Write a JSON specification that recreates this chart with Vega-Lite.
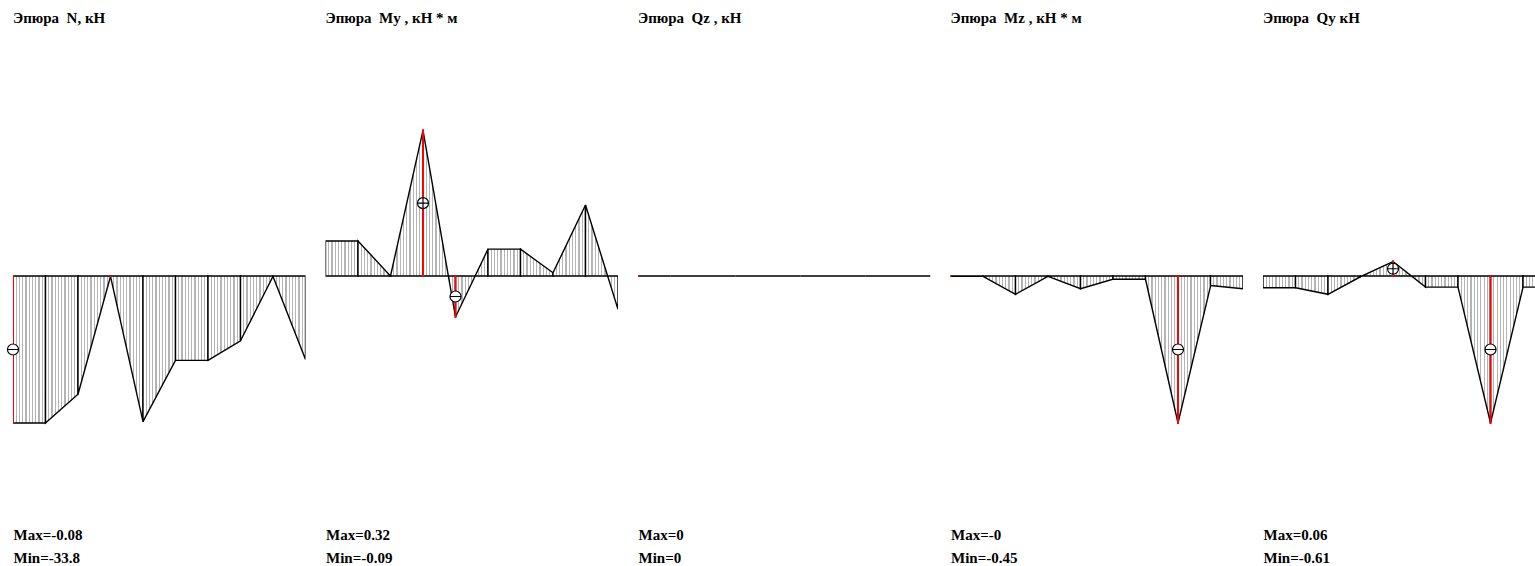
{
  "$schema": "https://vega.github.io/schema/vega-lite/v6.json",
  "background": "white",
  "padding": {"left": 5, "top": 10, "right": 0, "bottom": 0},
  "datasets": {
    "segs": [
      {"p": "N", "e": 1, "x": 0, "v": -33.8}, {"p": "N", "e": 1, "x": 1, "v": -33.8},
      {"p": "N", "e": 2, "x": 1, "v": -33.8}, {"p": "N", "e": 2, "x": 2, "v": -27.2},
      {"p": "N", "e": 3, "x": 2, "v": -27.2}, {"p": "N", "e": 3, "x": 3, "v": -0.08},
      {"p": "N", "e": 4, "x": 3, "v": -0.08}, {"p": "N", "e": 4, "x": 4, "v": -33.5},
      {"p": "N", "e": 5, "x": 4, "v": -33.5}, {"p": "N", "e": 5, "x": 5, "v": -19.4},
      {"p": "N", "e": 6, "x": 5, "v": -19.4}, {"p": "N", "e": 6, "x": 6, "v": -19.4},
      {"p": "N", "e": 7, "x": 6, "v": -19.4}, {"p": "N", "e": 7, "x": 7, "v": -14.9},
      {"p": "N", "e": 8, "x": 7, "v": -14.9}, {"p": "N", "e": 8, "x": 8, "v": -0.09},
      {"p": "N", "e": 9, "x": 8, "v": -0.09}, {"p": "N", "e": 9, "x": 9, "v": -19.2},

      {"p": "My", "e": 1, "x": 0, "v": 0.077}, {"p": "My", "e": 1, "x": 1, "v": 0.077},
      {"p": "My", "e": 2, "x": 1, "v": 0.077}, {"p": "My", "e": 2, "x": 2, "v": 0.0},
      {"p": "My", "e": 3, "x": 2, "v": 0.0}, {"p": "My", "e": 3, "x": 3, "v": 0.32},
      {"p": "My", "e": 4, "x": 3, "v": 0.32}, {"p": "My", "e": 4, "x": 4, "v": -0.09},
      {"p": "My", "e": 5, "x": 4, "v": -0.09}, {"p": "My", "e": 5, "x": 5, "v": 0.059},
      {"p": "My", "e": 6, "x": 5, "v": 0.059}, {"p": "My", "e": 6, "x": 6, "v": 0.059},
      {"p": "My", "e": 7, "x": 6, "v": 0.059}, {"p": "My", "e": 7, "x": 7, "v": 0.007},
      {"p": "My", "e": 8, "x": 7, "v": 0.007}, {"p": "My", "e": 8, "x": 8, "v": 0.156},
      {"p": "My", "e": 9, "x": 8, "v": 0.156}, {"p": "My", "e": 9, "x": 9, "v": -0.073},

      {"p": "Qz", "e": 1, "x": 0, "v": 0}, {"p": "Qz", "e": 1, "x": 1, "v": 0},
      {"p": "Qz", "e": 2, "x": 1, "v": 0}, {"p": "Qz", "e": 2, "x": 2, "v": 0},
      {"p": "Qz", "e": 3, "x": 2, "v": 0}, {"p": "Qz", "e": 3, "x": 3, "v": 0},
      {"p": "Qz", "e": 4, "x": 3, "v": 0}, {"p": "Qz", "e": 4, "x": 4, "v": 0},
      {"p": "Qz", "e": 5, "x": 4, "v": 0}, {"p": "Qz", "e": 5, "x": 5, "v": 0},
      {"p": "Qz", "e": 6, "x": 5, "v": 0}, {"p": "Qz", "e": 6, "x": 6, "v": 0},
      {"p": "Qz", "e": 7, "x": 6, "v": 0}, {"p": "Qz", "e": 7, "x": 7, "v": 0},
      {"p": "Qz", "e": 8, "x": 7, "v": 0}, {"p": "Qz", "e": 8, "x": 8, "v": 0},
      {"p": "Qz", "e": 9, "x": 8, "v": 0}, {"p": "Qz", "e": 9, "x": 9, "v": 0},

      {"p": "Mz", "e": 1, "x": 0, "v": -0.001}, {"p": "Mz", "e": 1, "x": 1, "v": -0.001},
      {"p": "Mz", "e": 2, "x": 1, "v": -0.001}, {"p": "Mz", "e": 2, "x": 2, "v": -0.056},
      {"p": "Mz", "e": 3, "x": 2, "v": -0.056}, {"p": "Mz", "e": 3, "x": 3, "v": -0.001},
      {"p": "Mz", "e": 4, "x": 3, "v": -0.001}, {"p": "Mz", "e": 4, "x": 4, "v": -0.039},
      {"p": "Mz", "e": 5, "x": 4, "v": -0.039}, {"p": "Mz", "e": 5, "x": 5, "v": -0.01},
      {"p": "Mz", "e": 6, "x": 5, "v": -0.01}, {"p": "Mz", "e": 6, "x": 6, "v": -0.01},
      {"p": "Mz", "e": 7, "x": 6, "v": -0.01}, {"p": "Mz", "e": 7, "x": 7, "v": -0.45},
      {"p": "Mz", "e": 8, "x": 7, "v": -0.45}, {"p": "Mz", "e": 8, "x": 8, "v": -0.031},
      {"p": "Mz", "e": 9, "x": 8, "v": -0.029}, {"p": "Mz", "e": 9, "x": 9, "v": -0.039},

      {"p": "Qy", "e": 1, "x": 0, "v": -0.049}, {"p": "Qy", "e": 1, "x": 1, "v": -0.049},
      {"p": "Qy", "e": 2, "x": 1, "v": -0.049}, {"p": "Qy", "e": 2, "x": 2, "v": -0.076},
      {"p": "Qy", "e": 3, "x": 2, "v": -0.076}, {"p": "Qy", "e": 3, "x": 3, "v": -0.003},
      {"p": "Qy", "e": 4, "x": 3, "v": -0.003}, {"p": "Qy", "e": 4, "x": 4, "v": 0.06},
      {"p": "Qy", "e": 5, "x": 4, "v": 0.06}, {"p": "Qy", "e": 5, "x": 5, "v": -0.046},
      {"p": "Qy", "e": 6, "x": 5, "v": -0.046}, {"p": "Qy", "e": 6, "x": 6, "v": -0.046},
      {"p": "Qy", "e": 7, "x": 6, "v": -0.046}, {"p": "Qy", "e": 7, "x": 7, "v": -0.61},
      {"p": "Qy", "e": 8, "x": 7, "v": -0.61}, {"p": "Qy", "e": 8, "x": 8, "v": -0.046},
      {"p": "Qy", "e": 9, "x": 8, "v": -0.046}, {"p": "Qy", "e": 9, "x": 9, "v": -0.046}
    ],
    "ext": [
      {"p": "N", "x": 0, "v": -33.8, "s": "minus"},
      {"p": "N", "x": 3, "v": -0.08, "s": "none"},
      {"p": "My", "x": 3, "v": 0.32, "s": "plus"},
      {"p": "My", "x": 4, "v": -0.09, "s": "minus"},
      {"p": "Qz", "x": 0, "v": 0, "s": "none"},
      {"p": "Mz", "x": 0, "v": -0.001, "s": "none"},
      {"p": "Mz", "x": 7, "v": -0.45, "s": "minus"},
      {"p": "Qy", "x": 4, "v": 0.06, "s": "plus"},
      {"p": "Qy", "x": 7, "v": -0.61, "s": "minus"}
    ]
  },
  "spacing": 19.5,
  "bounds": "flush",
  "hconcat": [
    {
      "width": 292.5, "height": 475,
      "title": "Эпюра\u00a0 N, кН",
      "encoding": {
        "x": {"field": "x", "type": "quantitative", "scale": {"domain": [0, 9], "nice": false, "zero": false}, "axis": {"title": ["Max=-0.08", "Min=-33.8"]}},
        "y": {"field": "v", "type": "quantitative", "scale": {"domain": [-55.19, 54.04], "nice": false, "zero": false}, "axis": null}
      },
      "layer": [
        {"data": {"name": "segs"}, "transform": [{"filter": "datum.p === 'N'"}], "mark": {"type": "area", "clip": true}, "encoding": {"y2": {"datum": 0}, "detail": {"field": "e"}}},
        {"data": {"name": "ext"}, "transform": [{"filter": "datum.p === 'N'"}], "mark": {"type": "rule", "clip": true}, "encoding": {"y2": {"datum": 0}}},
        {"data": {"name": "ext"}, "transform": [{"filter": "datum.p === 'N' && datum.s === 'minus'"}, {"calculate": "datum.v / 2", "as": "v"}], "mark": {"type": "point", "shape": "M-1,0A1,1,0,1,1,1,0A1,1,0,1,1,-1,0ZM-1,0L1,0", "filled": true, "fill": "white", "stroke": "black", "strokeWidth": 1.2, "size": 121, "opacity": 1}}
      ]
    },
    {
      "width": 292.5, "height": 475,
      "title": "Эпюра\u00a0 My , кН * м",
      "encoding": {
        "x": {"field": "x", "type": "quantitative", "scale": {"domain": [0, 9], "nice": false, "zero": false}, "axis": {"title": ["Max=0.32", "Min=-0.09"]}},
        "y": {"field": "v", "type": "quantitative", "scale": {"domain": [-0.5271, 0.5161], "nice": false, "zero": false}, "axis": null}
      },
      "layer": [
        {"data": {"name": "segs"}, "transform": [{"filter": "datum.p === 'My'"}], "mark": {"type": "area", "clip": true}, "encoding": {"y2": {"datum": 0}, "detail": {"field": "e"}}},
        {"data": {"name": "ext"}, "transform": [{"filter": "datum.p === 'My'"}], "mark": {"type": "rule", "clip": true}, "encoding": {"y2": {"datum": 0}}},
        {"data": {"name": "ext"}, "transform": [{"filter": "datum.p === 'My' && datum.s === 'plus'"}, {"calculate": "datum.v / 2", "as": "v"}], "mark": {"type": "point", "shape": "M-1,0A1,1,0,1,1,1,0A1,1,0,1,1,-1,0ZM-1,0L1,0M0,-1L0,1", "filled": true, "fill": "white", "stroke": "black", "strokeWidth": 1.2, "size": 121, "opacity": 1}},
        {"data": {"name": "ext"}, "transform": [{"filter": "datum.p === 'My' && datum.s === 'minus'"}, {"calculate": "datum.v / 2", "as": "v"}], "mark": {"type": "point", "shape": "M-1,0A1,1,0,1,1,1,0A1,1,0,1,1,-1,0ZM-1,0L1,0", "filled": true, "fill": "white", "stroke": "black", "strokeWidth": 1.2, "size": 121, "opacity": 1}}
      ]
    },
    {
      "width": 292.5, "height": 475,
      "title": "Эпюра\u00a0 Qz , кН",
      "encoding": {
        "x": {"field": "x", "type": "quantitative", "scale": {"domain": [0, 9], "nice": false, "zero": false}, "axis": {"title": ["Max=0", "Min=0"]}},
        "y": {"field": "v", "type": "quantitative", "scale": {"domain": [-1.0213, 1], "nice": false, "zero": false}, "axis": null}
      },
      "layer": [
        {"data": {"name": "segs"}, "transform": [{"filter": "datum.p === 'Qz'"}], "mark": {"type": "area", "clip": true}, "encoding": {"y2": {"datum": 0}, "detail": {"field": "e"}}},
        {"data": {"name": "ext"}, "transform": [{"filter": "datum.p === 'Qz'"}], "mark": {"type": "rule", "clip": true}, "encoding": {"y2": {"datum": 0}}}
      ]
    },
    {
      "width": 292.5, "height": 475,
      "title": "Эпюра\u00a0 Mz , кН * м",
      "encoding": {
        "x": {"field": "x", "type": "quantitative", "scale": {"domain": [0, 9], "nice": false, "zero": false}, "axis": {"title": ["Max=-0", "Min=-0.45"]}},
        "y": {"field": "v", "type": "quantitative", "scale": {"domain": [-0.7346, 0.7193], "nice": false, "zero": false}, "axis": null}
      },
      "layer": [
        {"data": {"name": "segs"}, "transform": [{"filter": "datum.p === 'Mz'"}], "mark": {"type": "area", "clip": true}, "encoding": {"y2": {"datum": 0}, "detail": {"field": "e"}}},
        {"data": {"name": "ext"}, "transform": [{"filter": "datum.p === 'Mz'"}], "mark": {"type": "rule", "clip": true}, "encoding": {"y2": {"datum": 0}}},
        {"data": {"name": "ext"}, "transform": [{"filter": "datum.p === 'Mz' && datum.s === 'minus'"}, {"calculate": "datum.v / 2", "as": "v"}], "mark": {"type": "point", "shape": "M-1,0A1,1,0,1,1,1,0A1,1,0,1,1,-1,0ZM-1,0L1,0", "filled": true, "fill": "white", "stroke": "black", "strokeWidth": 1.2, "size": 121, "opacity": 1}}
      ]
    },
    {
      "width": 274, "height": 475,
      "title": "Эпюра\u00a0 Qy кН",
      "encoding": {
        "x": {"field": "x", "type": "quantitative", "scale": {"domain": [0, 8.43], "nice": false, "zero": false}, "axis": {"title": ["Max=0.06", "Min=-0.61"]}},
        "y": {"field": "v", "type": "quantitative", "scale": {"domain": [-0.9959, 0.9751], "nice": false, "zero": false}, "axis": null}
      },
      "layer": [
        {"data": {"name": "segs"}, "transform": [{"filter": "datum.p === 'Qy'"}], "mark": {"type": "area", "clip": true}, "encoding": {"y2": {"datum": 0}, "detail": {"field": "e"}}},
        {"data": {"name": "ext"}, "transform": [{"filter": "datum.p === 'Qy'"}], "mark": {"type": "rule", "clip": true}, "encoding": {"y2": {"datum": 0}}},
        {"data": {"name": "ext"}, "transform": [{"filter": "datum.p === 'Qy' && datum.s === 'plus'"}, {"calculate": "datum.v / 2", "as": "v"}], "mark": {"type": "point", "shape": "M-1,0A1,1,0,1,1,1,0A1,1,0,1,1,-1,0ZM-1,0L1,0M0,-1L0,1", "filled": true, "fill": "white", "stroke": "black", "strokeWidth": 1.2, "size": 121, "opacity": 1}},
        {"data": {"name": "ext"}, "transform": [{"filter": "datum.p === 'Qy' && datum.s === 'minus'"}, {"calculate": "datum.v / 2", "as": "v"}], "mark": {"type": "point", "shape": "M-1,0A1,1,0,1,1,1,0A1,1,0,1,1,-1,0ZM-1,0L1,0", "filled": true, "fill": "white", "stroke": "black", "strokeWidth": 1.2, "size": 121, "opacity": 1}}
      ]
    }
  ],
  "config": {
    "view": {"stroke": null},
    "title": {"font": "Liberation Serif", "fontSize": 15, "fontWeight": "bold", "anchor": "start", "frame": "group", "color": "black", "baseline": "alphabetic", "offset": 15.5},
    "axisX": {
      "labels": false, "ticks": false, "domain": false, "grid": false,
      "titleAnchor": "start", "titleAlign": "left", "titleBaseline": "alphabetic",
      "titlePadding": 23, "titleLineHeight": 23,
      "titleFont": "Liberation Serif", "titleFontSize": 15, "titleFontWeight": "bold", "titleColor": "black"
    },
    "area": {
      "fill": {
        "gradient": "linear", "x1": 0, "y1": 0, "x2": 1, "y2": 0,
        "stops": [
          {"offset": 0, "color": "white"},
          {"offset": 0.084, "color": "white"}, {"offset": 0.084, "color": "#b4b4b4"}, {"offset": 0.116, "color": "#b4b4b4"}, {"offset": 0.116, "color": "white"},
          {"offset": 0.184, "color": "white"}, {"offset": 0.184, "color": "#b4b4b4"}, {"offset": 0.216, "color": "#b4b4b4"}, {"offset": 0.216, "color": "white"},
          {"offset": 0.284, "color": "white"}, {"offset": 0.284, "color": "#b4b4b4"}, {"offset": 0.316, "color": "#b4b4b4"}, {"offset": 0.316, "color": "white"},
          {"offset": 0.384, "color": "white"}, {"offset": 0.384, "color": "#b4b4b4"}, {"offset": 0.416, "color": "#b4b4b4"}, {"offset": 0.416, "color": "white"},
          {"offset": 0.484, "color": "white"}, {"offset": 0.484, "color": "#b4b4b4"}, {"offset": 0.516, "color": "#b4b4b4"}, {"offset": 0.516, "color": "white"},
          {"offset": 0.584, "color": "white"}, {"offset": 0.584, "color": "#b4b4b4"}, {"offset": 0.616, "color": "#b4b4b4"}, {"offset": 0.616, "color": "white"},
          {"offset": 0.684, "color": "white"}, {"offset": 0.684, "color": "#b4b4b4"}, {"offset": 0.716, "color": "#b4b4b4"}, {"offset": 0.716, "color": "white"},
          {"offset": 0.784, "color": "white"}, {"offset": 0.784, "color": "#b4b4b4"}, {"offset": 0.816, "color": "#b4b4b4"}, {"offset": 0.816, "color": "white"},
          {"offset": 0.884, "color": "white"}, {"offset": 0.884, "color": "#b4b4b4"}, {"offset": 0.916, "color": "#b4b4b4"}, {"offset": 0.916, "color": "white"},
          {"offset": 1, "color": "white"}
        ]
      },
      "fillOpacity": 1,
      "stroke": "black",
      "strokeWidth": 1.4,
      "line": false
    },
    "rule": {"stroke": "#ff0000", "strokeWidth": 2, "strokeCap": "square"}
  }
}
